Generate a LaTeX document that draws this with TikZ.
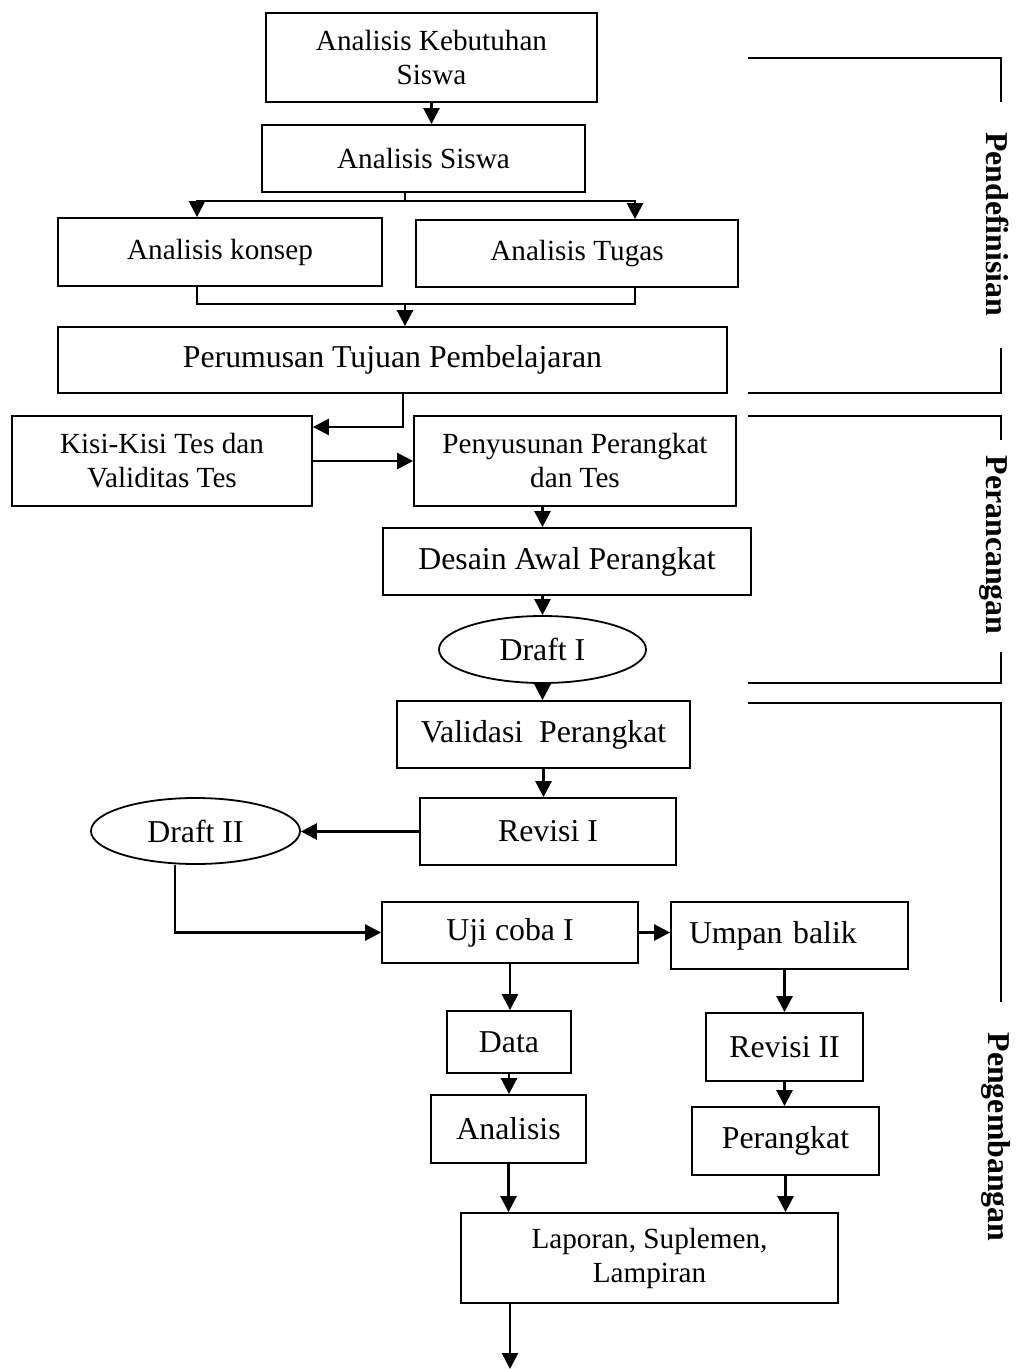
\documentclass[tikz,border=0pt]{standalone}
\usepackage{fontspec}
\setmainfont{Liberation Serif}
\usetikzlibrary{arrows.meta,shapes.geometric}
\newcommand{\hurufkecil}{\fontsize{14.6}{17}\selectfont}
\newcommand{\hurufbesar}{\fontsize{15.9}{19}\selectfont}

\begin{document}
\begin{tikzpicture}[x=0.5pt,y=-0.5pt,
  kotak/.style={draw,line width=0.9pt,inner sep=0pt,align=center,font=\hurufbesar},
  elips/.style={kotak,ellipse},
  panah/.style={line width=1.3pt,-{Triangle[length=8pt,width=8pt]}},
  garis/.style={line width=1.3pt},
  kurung/.style={line width=0.8pt},
  tahap/.style={rotate=-90,anchor=base,font=\hurufbesar\bfseries}]
  \useasboundingbox (0,0) rectangle (1028,1369);

  % tahap pendefinisian
  \node[kotak,font=\hurufkecil,minimum width=165.5pt,minimum height=44.5pt] (keb) at (431.5,57.5) {Analisis Kebutuhan\\Siswa};
  \node[kotak,font=\hurufkecil,minimum width=161.5pt,minimum height=33.5pt] (siswa) at (423.5,158.5) {Analisis Siswa};
  \node[kotak,font=\hurufkecil,minimum width=162pt,minimum height=34pt] (konsep) at (220,252) {Analisis konsep};
  \node[kotak,font=\hurufkecil,minimum width=161pt,minimum height=33.5pt] (tugas) at (577,253.5) {Analisis Tugas};
  \node[kotak,minimum width=334.5pt,minimum height=33pt] (rumus) at (392.5,360) {Perumusan Tujuan Pembelajaran};

  % tahap perancangan
  \node[kotak,font=\hurufkecil,minimum width=150pt,minimum height=45pt] (kisi) at (162,461) {Kisi-Kisi Tes dan\\Validitas Tes};
  \node[kotak,font=\hurufkecil,minimum width=161pt,minimum height=45pt] (susun) at (575,461) {Penyusunan Perangkat\\dan Tes};
  \node[kotak,minimum width=184pt,minimum height=33.5pt] (desain) at (567,561.5) {Desain Awal Perangkat};
  \node[elips,minimum width=103.5pt,minimum height=33.5pt] (draft1) at (542.5,649.5) {Draft I};

  % tahap pengembangan
  \node[kotak,minimum width=146.5pt,minimum height=33.5pt] (valid) at (543.5,734.5) {Validasi~ Perangkat};
  \node[kotak,minimum width=128pt,minimum height=33.5pt] (revisi1) at (548,831.5) {Revisi I};
  \node[elips,minimum width=104.5pt,minimum height=33pt] (draft2) at (195.5,831) {Draft II};
  \node[kotak,minimum width=128pt,minimum height=30.5pt] (uji) at (510,932.5) {Uji coba I};
  \node[kotak,text width=100.5pt,inner xsep=9pt,align=left,minimum height=33.5pt] (umpan) at (789.5,935.5) {Umpan balik};
  \node[kotak,minimum width=62pt,minimum height=31pt] (data) at (509,1042) {Data};
  \node[kotak,minimum width=78.5pt,minimum height=34pt] (revisi2) at (784.5,1047) {Revisi II};
  \node[kotak,minimum width=77.5pt,minimum height=34pt] (analisis) at (508.5,1129) {Analisis};
  \node[kotak,minimum width=93.5pt,minimum height=34pt] (perangkat) at (785.5,1141) {Perangkat};
  \node[kotak,font=\hurufkecil,minimum width=188.5pt,minimum height=45pt] (laporan) at (649.5,1258) {Laporan, Suplemen,\\Lampiran};

  \coordinate (pisah) at (405,201);
  \coordinate (gabung) at (405,304);
  \coordinate (akhir) at (510,1369);

  % panah
  \draw[panah] (keb.south) -- (keb.south |- siswa.north);
  \draw[garis] (siswa.south -| pisah) -- (pisah);
  \draw[panah] (pisah) -| ([xshift=-11.5pt]konsep.north);
  \draw[panah] (pisah) -| ([xshift=29pt]tugas.north);
  \draw[garis] ([xshift=-11.5pt]konsep.south) |- ([xshift=29pt]tugas.south |- gabung) -- ([xshift=29pt]tugas.south);
  \draw[panah] (gabung) -- (gabung |- rumus.north);
  \draw[panah] ([xshift=5.25pt]rumus.south) |- ([yshift=17pt]kisi.east);
  \draw[panah] (kisi.east) -- (susun.west);
  \draw[panah] (draft1.north |- susun.south) -- (draft1.north |- desain.north);
  \draw[panah] (draft1.north |- desain.south) -- (draft1.north);
  \draw[panah] (draft1.south) -- (draft1.south |- valid.north);
  \draw[panah] (valid.south) -- (valid.south |- revisi1.north);
  \draw[panah] (revisi1.west) -- (revisi1.west -| draft2.east);
  \draw[panah] ([xshift=-10.25pt]draft2.south) |- (uji.west);
  \draw[panah] (uji.east) -- (uji.east -| umpan.west);
  \draw[panah] (uji.south) -- (uji.south |- data.north);
  \draw[panah] (revisi2.north |- umpan.south) -- (revisi2.north);
  \draw[panah] (data.south) -- (data.south |- analisis.north);
  \draw[panah] (revisi2.south) -- (revisi2.south |- perangkat.north);
  \draw[panah] (analisis.south) -- (analisis.south |- laporan.north);
  \draw[panah] (perangkat.south) -- (perangkat.south |- laporan.north);
  \draw[panah] (akhir |- laporan.south) -- (akhir);

  % kurung tahap
  \node[tahap] (definisi) at (986,224) {Pendefinisian};
  \node[tahap] (rancang) at (986,545) {Perancangan};
  \node[tahap] (kembang) at (988,1137) {Pengembangan};
  \draw[kurung] (748,58) -- (1001,58) -- (1001,102);
  \draw[kurung] (1001,348) -- (1001,393) -- (748,393);
  \draw[kurung] (748,416) -- (1001,416) -- (1001,440);
  \draw[kurung] (1001,652) -- (1001,683) -- (748,683);
  \draw[kurung] (748,703) -- (1001,703) -- (1001,1002);
\end{tikzpicture}
\end{document}
